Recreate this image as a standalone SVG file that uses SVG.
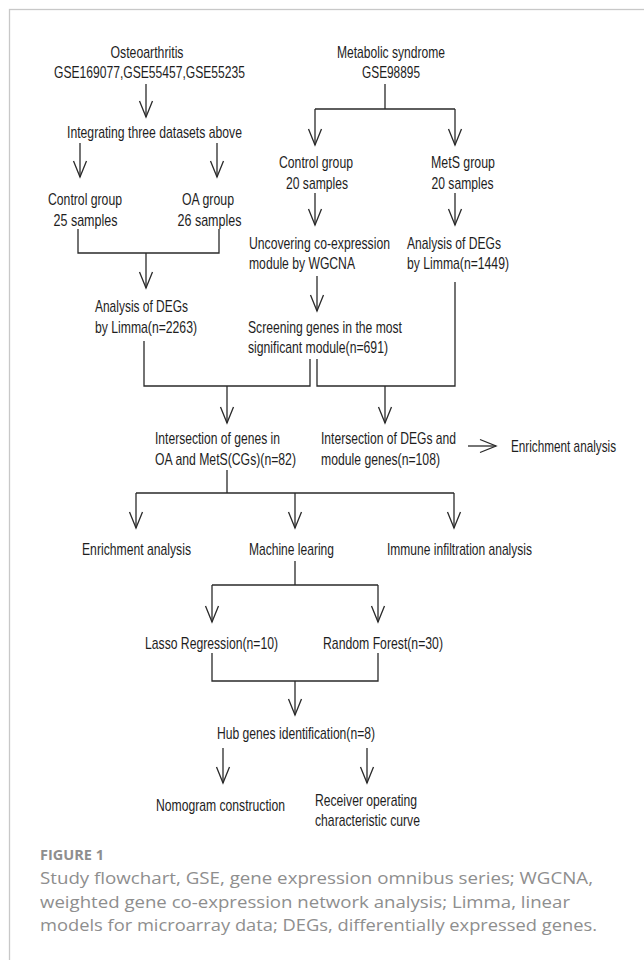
<svg xmlns="http://www.w3.org/2000/svg" width="644" height="960" viewBox="0 0 644 960">
<style>
.t{font-family:"Liberation Sans",Arial,sans-serif;font-size:17px;fill:#1e1e1e}
.m{text-anchor:middle}
.c{stroke:#2a2a2a;stroke-width:1.3;fill:none}
.cap{font-family:"Open Sans","Noto Sans",sans-serif;font-size:17px;fill:#8e8e8e}
.fig{font-family:"Open Sans","Noto Sans",sans-serif;font-size:14px;font-weight:bold;fill:#8e8e8e}
</style>
<defs>
<marker id="v" viewBox="-18 -9 20 18" refX="0" refY="0" markerWidth="20" markerHeight="18" orient="auto" markerUnits="userSpaceOnUse">
<path d="M-16,-6.5 L0,0 L-16,6.5" fill="none" stroke="#2a2a2a" stroke-width="1.3"/>
</marker>
</defs>
<rect x="9.5" y="9.5" width="700" height="1000" fill="none" stroke="#c8c8c8" stroke-width="1.3"/>
<g id="connectors" class="c">
<path d="M146,84 V117" marker-end="url(#v)"/>
<path d="M385,84 V109 M315,109 H455"/>
<path d="M315,109 V145" marker-end="url(#v)"/>
<path d="M455,109 V145" marker-end="url(#v)"/>
<path d="M80,143 V177" marker-end="url(#v)"/>
<path d="M217,143 V177" marker-end="url(#v)"/>
<path d="M78,229 V253 H219 V229"/>
<path d="M146,253 V288" marker-end="url(#v)"/>
<path d="M315,193 V225" marker-end="url(#v)"/>
<path d="M455,193 V225" marker-end="url(#v)"/>
<path d="M317,276 V311" marker-end="url(#v)"/>
<path d="M144,341 V386 H310 V359"/>
<path d="M317,359 V386 H455 V282"/>
<path d="M227,386 V423" marker-end="url(#v)"/>
<path d="M385,386 V423" marker-end="url(#v)"/>
<path d="M468,446 H496" marker-end="url(#v)"/>
<path d="M227,470 V493 M136,493 H454"/>
<path d="M136,493 V528" marker-end="url(#v)"/>
<path d="M295,493 V528" marker-end="url(#v)"/>
<path d="M454,493 V528" marker-end="url(#v)"/>
<path d="M295,561 V585 M212,585 H378"/>
<path d="M212,585 V622" marker-end="url(#v)"/>
<path d="M378,585 V622" marker-end="url(#v)"/>
<path d="M212,653 V681 H378 V653"/>
<path d="M295,681 V715" marker-end="url(#v)"/>
<path d="M223,748 V783" marker-end="url(#v)"/>
<path d="M367,748 V783" marker-end="url(#v)"/>
</g>
<g id="n-oa" class="t m"><text x="147" y="58" textLength="73" lengthAdjust="spacingAndGlyphs">Osteoarthritis</text><text x="149.5" y="78" textLength="191" lengthAdjust="spacingAndGlyphs">GSE169077,GSE55457,GSE55235</text></g>
<g id="n-mets" class="t m"><text x="391" y="58" textLength="108" lengthAdjust="spacingAndGlyphs">Metabolic syndrome</text><text x="391" y="78" textLength="58" lengthAdjust="spacingAndGlyphs">GSE98895</text></g>
<g id="n-integrate" class="t m"><text x="154.5" y="138" textLength="175" lengthAdjust="spacingAndGlyphs">Integrating three datasets above</text></g>
<g id="n-control-oa" class="t m"><text x="85" y="205" textLength="74" lengthAdjust="spacingAndGlyphs">Control group</text><text x="85.5" y="226" textLength="64" lengthAdjust="spacingAndGlyphs">25 samples</text></g>
<g id="n-oa-group" class="t m"><text x="208" y="205" textLength="52" lengthAdjust="spacingAndGlyphs">OA group</text><text x="209.5" y="226" textLength="64" lengthAdjust="spacingAndGlyphs">26 samples</text></g>
<g id="n-control-mets" class="t m"><text x="316" y="168" textLength="74" lengthAdjust="spacingAndGlyphs">Control group</text><text x="317" y="189" textLength="62" lengthAdjust="spacingAndGlyphs">20 samples</text></g>
<g id="n-mets-group" class="t m"><text x="463" y="168" textLength="64" lengthAdjust="spacingAndGlyphs">MetS group</text><text x="462.5" y="189" textLength="62" lengthAdjust="spacingAndGlyphs">20 samples</text></g>
<g id="n-wgcna" class="t"><text x="249" y="249" textLength="141" lengthAdjust="spacingAndGlyphs">Uncovering co-expression</text><text x="249" y="269" textLength="106" lengthAdjust="spacingAndGlyphs">module by WGCNA</text></g>
<g id="n-degs-mets" class="t"><text x="407" y="249" textLength="94" lengthAdjust="spacingAndGlyphs">Analysis of DEGs</text><text x="407" y="269" textLength="102" lengthAdjust="spacingAndGlyphs">by Limma(n=1449)</text></g>
<g id="n-degs-oa" class="t"><text x="95" y="312" textLength="93" lengthAdjust="spacingAndGlyphs">Analysis of DEGs</text><text x="95" y="333" textLength="102" lengthAdjust="spacingAndGlyphs">by Limma(n=2263)</text></g>
<g id="n-module" class="t"><text x="248" y="333" textLength="154" lengthAdjust="spacingAndGlyphs">Screening genes in the most</text><text x="248" y="353" textLength="140" lengthAdjust="spacingAndGlyphs">significant module(n=691)</text></g>
<g id="n-cgs" class="t"><text x="155" y="444" textLength="125" lengthAdjust="spacingAndGlyphs">Intersection of genes in</text><text x="155" y="465" textLength="141" lengthAdjust="spacingAndGlyphs">OA and MetS(CGs)(n=82)</text></g>
<g id="n-inter-degs" class="t"><text x="321" y="444" textLength="135" lengthAdjust="spacingAndGlyphs">Intersection of DEGs and</text><text x="321" y="465" textLength="119" lengthAdjust="spacingAndGlyphs">module genes(n=108)</text></g>
<g id="n-enrich-1" class="t"><text x="511" y="452" textLength="105" lengthAdjust="spacingAndGlyphs">Enrichment analysis</text></g>
<g id="n-enrich-2" class="t"><text x="82" y="555" textLength="109" lengthAdjust="spacingAndGlyphs">Enrichment analysis</text></g>
<g id="n-ml" class="t"><text x="249" y="555" textLength="85" lengthAdjust="spacingAndGlyphs">Machine learing</text></g>
<g id="n-immune" class="t"><text x="387" y="555" textLength="145" lengthAdjust="spacingAndGlyphs">Immune infiltration analysis</text></g>
<g id="n-lasso" class="t"><text x="145" y="649" textLength="133" lengthAdjust="spacingAndGlyphs">Lasso Regression(n=10)</text></g>
<g id="n-rf" class="t"><text x="323" y="649" textLength="120" lengthAdjust="spacingAndGlyphs">Random Forest(n=30)</text></g>
<g id="n-hub" class="t"><text x="217" y="739" textLength="158" lengthAdjust="spacingAndGlyphs">Hub genes identification(n=8)</text></g>
<g id="n-nomo" class="t"><text x="156" y="811" textLength="129" lengthAdjust="spacingAndGlyphs">Nomogram construction</text></g>
<g id="n-roc" class="t"><text x="315" y="806" textLength="102" lengthAdjust="spacingAndGlyphs">Receiver operating</text><text x="315" y="826" textLength="105" lengthAdjust="spacingAndGlyphs">characteristic curve</text></g>
<g id="caption">
<text class="fig" x="40" y="860" textLength="64" lengthAdjust="spacingAndGlyphs">FIGURE 1</text>
<text class="cap" x="40" y="884" textLength="553" lengthAdjust="spacingAndGlyphs">Study flowchart, GSE, gene expression omnibus series; WGCNA,</text>
<text class="cap" x="40" y="908" textLength="530" lengthAdjust="spacingAndGlyphs">weighted gene co-expression network analysis; Limma, linear</text>
<text class="cap" x="40" y="931" textLength="557" lengthAdjust="spacingAndGlyphs">models for microarray data; DEGs, differentially expressed genes.</text>
</g>
</svg>
